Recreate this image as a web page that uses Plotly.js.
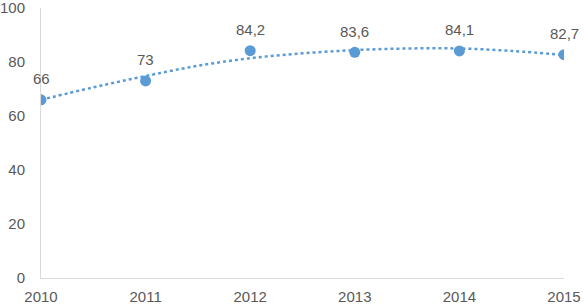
<!DOCTYPE html>
<html>
<head>
<meta charset="utf-8">
<script src="https://cdn.plot.ly/plotly-3.0.1.min.js"></script>
<style>html,body{margin:0;padding:0;background:#fff;}#chart{width:585px;height:306px;}</style>
</head>
<body>
<div id="chart"></div>
<script>
const years = [2010, 2011, 2012, 2013, 2014, 2015];
const values = [66, 73, 84.2, 83.6, 84.1, 82.7];
// trendline (half-year steps)
const trendYears = [2010, 2010.5, 2011, 2011.5, 2012, 2012.5, 2013, 2013.5, 2014, 2014.5, 2015];
const trendValues = [66, 70.6, 74.8, 78.6, 81.4, 83.2, 84.4, 85.0, 85.0, 84.1, 82.6];
const yTicks = [0, 20, 40, 60, 80, 100];

const blue = '#5B9BD5';
const grey = '#595959';
const font = 'Liberation Sans, Arial, sans-serif';

const data = [
  {x: trendYears, y: trendValues, mode: 'lines', line: {color: blue, width: 2.5, dash: 'dot', shape: 'spline'}, hoverinfo: 'skip'},
  {x: years, y: values, mode: 'markers', marker: {color: blue, size: 11}}
];

const annotations = years.map((yr, i) => ({
  x: yr, y: values[i], xref: 'x', yref: 'y',
  text: String(values[i]).replace('.', ','),
  showarrow: false, yshift: 21,
  font: {family: font, size: 15, color: grey}
}));

const layout = {
  width: 585, height: 306,
  margin: {l: 41, r: 21, t: 8, b: 28},
  showlegend: false,
  paper_bgcolor: '#fff', plot_bgcolor: '#fff',
  xaxis: {range: [2010, 2015], tickvals: years, ticktext: years.map(String), showgrid: false, zeroline: false,
          showline: true, linecolor: '#D9D9D9', linewidth: 1, ticks: '', ticklabelstandoff: 5,
          ticklabeloverflow: 'allow', automargin: false,
          tickfont: {family: font, size: 15, color: grey}},
  yaxis: {range: [0, 100], tickvals: yTicks, showgrid: false, zeroline: false,
          showline: true, linecolor: '#D9D9D9', linewidth: 1, ticks: '', ticklabelstandoff: 12,
          ticklabeloverflow: 'allow', automargin: false,
          tickfont: {family: font, size: 15, color: grey}},
  annotations: annotations
};

Plotly.newPlot('chart', data, layout, {displayModeBar: false, staticPlot: true});
</script>
</body>
</html>
